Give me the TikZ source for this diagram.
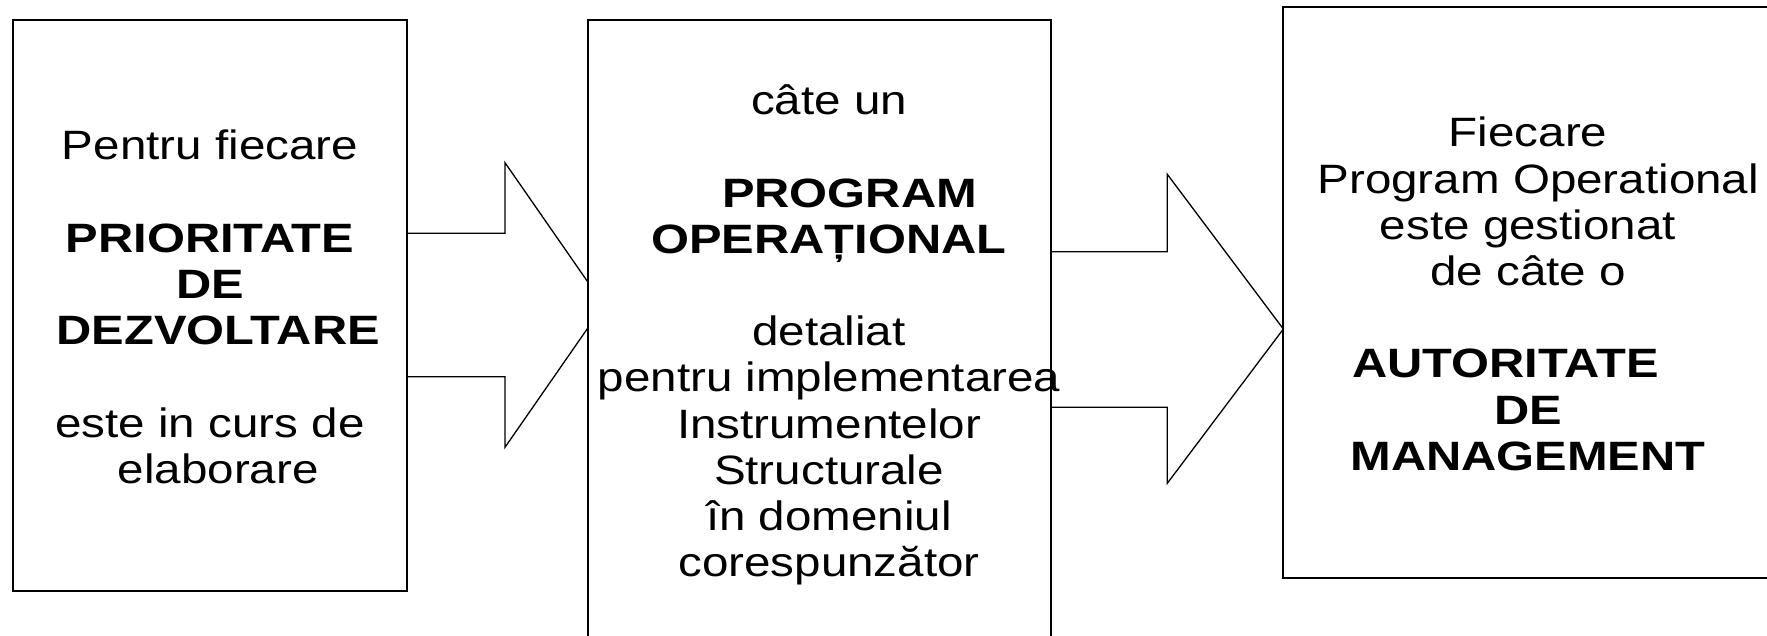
\documentclass[tikz,border=0pt]{standalone}
\usepackage{fontspec}
\setmainfont[FakeStretch=1.16, BoldFeatures={FakeStretch=1.19}]{Liberation Sans}
\usetikzlibrary{backgrounds}

\begin{document}
\begin{tikzpicture}[x=0.5pt,y=0.5pt,yscale=-1,xscale=1,
  blockbox/.style={draw, line width=0.9pt, fill=white, outer sep=0pt, inner sep=0pt},
  boxtext/.style={inner sep=0pt, align=center, font=\fontsize{20.5}{23.1}\selectfont},
  blockarrow/.style={draw, line width=0.65pt, line join=miter, fill=white}]
%set diagram left start at 0, and has height of 636
\useasboundingbox (0,0) rectangle (1767,636);

%Shape: Rectangle [id:prioritate]
\node[blockbox, minimum width=196.7pt, minimum height=285.5pt] (lbox) at (210,305.5) {};
%Shape: Rectangle [id:program]
\node[blockbox, minimum width=231.65pt, minimum height=311pt] (mbox) at (819.4,331) {};
%Shape: Rectangle [id:autoritate]
\node[blockbox, minimum width=253.85pt, minimum height=285.65pt] (rbox) at (1537.2,292.7) {};

% Text Node
\node[boxtext] (ltext) at (210,307) {Pentru fiecare\\[23.1pt] \textbf{PRIORITATE}\\ \textbf{DE}\\ \hspace*{0.4em}\textbf{DEZVOLTARE}\\[23.1pt] este in curs de\\ \hspace*{0.4em}elaborare};
% Text Node
\node[boxtext] (mtext) at (829,335) {câte un\\[23.1pt] \hspace*{1em}\textbf{PROGRAM}\\ \textbf{OPERAȚIONAL}\\[23.1pt] detaliat\\ pentru implementarea\\ Instrumentelor\\ Structurale\\ în domeniul\\ corespunzător};
% Text Node
\node[boxtext] (rtext) at (1528,294) {Fiecare\\ \hspace*{0.5em}Program Operational\\ este gestionat\\ de câte o\\[23.1pt] \textbf{AUTORITATE}\kern1.1em\\ \textbf{DE}\\ \textbf{MANAGEMENT}};

\begin{scope}[on background layer]
%Shape: Right Arrow [id:arrow1]
\draw[blockarrow] (lbox.east |- 0,233.3) -- (505,233.3) -- (505,162.7) -- (603.8,305) -- (505,447.3) -- (505,376.7) -- (lbox.east |- 0,376.7) -- cycle;
%Shape: Right Arrow [id:arrow2]
\draw[blockarrow] (mbox.east |- 0,251.7) -- (1167.3,251.7) -- (1167.3,174.3) -- (rbox.west |- 0,329) -- (1167.3,483.3) -- (1167.3,407.3) -- (mbox.east |- 0,407.3) -- cycle;
\end{scope}

\end{tikzpicture}
\end{document}
